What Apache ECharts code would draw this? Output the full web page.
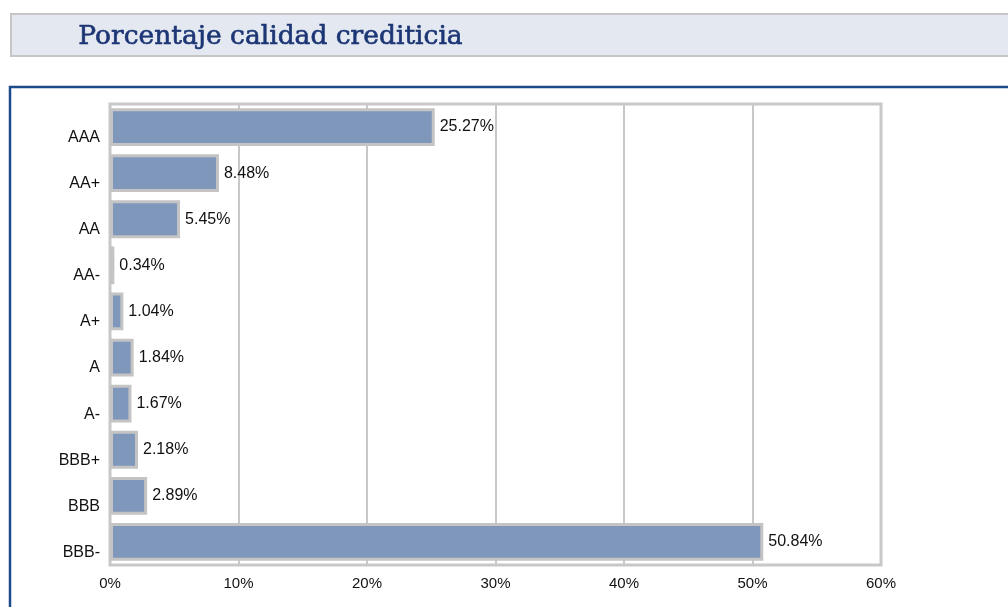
<!DOCTYPE html>
<html>
<head>
<meta charset="utf-8">
<script src="https://cdn.jsdelivr.net/npm/echarts@6/dist/echarts.min.js"></script>
<style>
  html, body { margin:0; padding:0; background:#fff; }
  #chart { width:1008px; height:607px; }
</style>
</head>
<body>
<div id="chart"></div>
<script>
const categories = ['AAA', 'AA+', 'AA', 'AA-', 'A+', 'A', 'A-', 'BBB+', 'BBB', 'BBB-'];
const values = [25.27, 8.48, 5.45, 0.34, 1.04, 1.84, 1.67, 2.18, 2.89, 50.84];
const titleText = 'Porcentaje calidad crediticia';

const chartE = echarts.init(document.getElementById('chart'));

chartE.setOption({
    backgroundColor: '#fff',
    animation: false,
    graphic: [
        { type:'rect', z:0, shape:{ x:11, y:14, width:1010, height:42 }, style:{ fill:'#e4e9f1', stroke:'#c6c6c6', lineWidth:2 } },
        { type:'text', z:1, left:78, top:23, style:{ text:titleText, font:'26.5px "DejaVu Serif"', fill:'#1c3574', stroke:'#1c3574', lineWidth:0.6 } },
        { type:'rect', z:0, shape:{ x:10, y:87, width:1010, height:530 }, style:{ fill:'none', stroke:'#1d4a8a', lineWidth:2.5 } }
    ],
    grid: { left:110, right:127, top:104, bottom:42, show:true, borderColor:'#c8c8c8', borderWidth:3, containLabel:false },
    xAxis: {
        type:'value', min:0, max:60, interval:10,
        axisLabel:{ formatter:'{value}%', fontSize:15, color:'#111', fontFamily:'Liberation Sans', margin:11 },
        axisLine:{ show:false }, axisTick:{ show:false },
        splitLine:{ lineStyle:{ color:'#c8c8c8', width:2 } }
    },
    yAxis: {
        type:'category', data:categories, inverse:true,
        axisLabel:{ fontSize:16, color:'#111', fontFamily:'Liberation Sans', margin:10, verticalAlign:'top', lineHeight:21 },
        axisLine:{ show:false }, axisTick:{ show:false }
    },
    series:[{
        type:'bar', data:values, barWidth:'82%',
        itemStyle:{ color:'#7f97ba', borderColor:'#c4c4c4', borderWidth:3 },
        label:{ show:true, position:'right', distance:5, formatter:p => p.value.toFixed(2) + '%', fontSize:16, color:'#111', fontFamily:'Liberation Sans' }
    }]
});
</script>
</body>
</html>
